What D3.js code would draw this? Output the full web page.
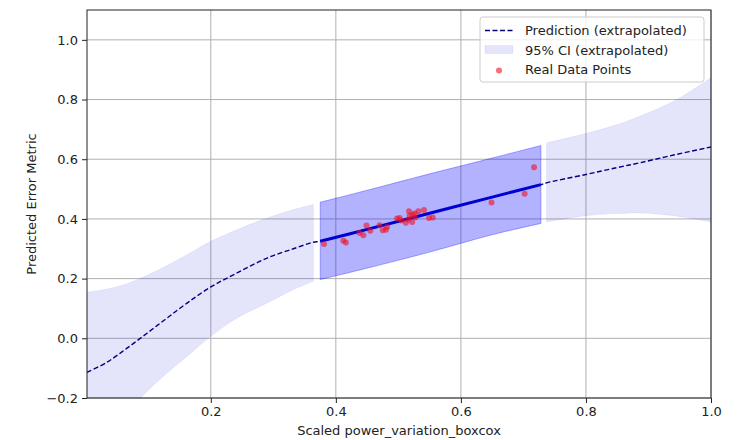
<!DOCTYPE html>
<html>
<head>
<meta charset="utf-8">
<script src="https://cdn.jsdelivr.net/npm/d3@7"></script>
<style>
  body { margin: 0; background: #fff; }
  svg { font-family: "DejaVu Sans", sans-serif; }
</style>
</head>
<body>
<div id="chart"></div>
<script>
// extrapolated prediction, left of the observed range
var leftX     = [0.002, 0.034, 0.066, 0.098, 0.13, 0.162, 0.2, 0.242, 0.29, 0.332, 0.364];
var leftMean  = [-0.114, -0.080, -0.033, 0.017, 0.068, 0.118, 0.172, 0.219, 0.269, 0.300, 0.322];
var leftUpper = [0.154, 0.165, 0.183, 0.211, 0.244, 0.280, 0.325, 0.364, 0.403, 0.431, 0.448];
var leftLower = [-0.382, -0.318, -0.250, -0.178, -0.116, -0.061, 0.0065, 0.068, 0.118, 0.163, 0.191];

// prediction over the observed range
var midX     = [0.375, 0.45, 0.55, 0.65, 0.728];
var midMean  = [0.325, 0.365, 0.419, 0.473, 0.515];
var midUpper = [0.456, 0.496, 0.551, 0.604, 0.646];
var midLower = [0.197, 0.235, 0.289, 0.347, 0.385];

// extrapolated prediction, right of the observed range
var rightX     = [0.737, 0.8, 0.85, 0.886, 0.94, 1.0];
var rightMean  = [0.521, 0.549, 0.572, 0.588, 0.614, 0.641];
var rightUpper = [0.655, 0.686, 0.716, 0.744, 0.794, 0.873];
var rightLower = [0.390, 0.411, 0.418, 0.420, 0.411, 0.390];

// real data points
var pointX = [0.381, 0.412, 0.416, 0.438, 0.444, 0.449, 0.455, 0.470, 0.475, 0.480, 0.482,
              0.498, 0.502, 0.505, 0.512, 0.516, 0.517, 0.518, 0.522, 0.523, 0.526, 0.527,
              0.532, 0.541, 0.549, 0.555, 0.649, 0.702, 0.717];
var pointY = [0.316, 0.327, 0.321, 0.353, 0.345, 0.378, 0.360, 0.379, 0.362, 0.364, 0.373,
              0.401, 0.403, 0.395, 0.387, 0.398, 0.426, 0.411, 0.390, 0.414, 0.418, 0.405,
              0.426, 0.430, 0.403, 0.405, 0.455, 0.484, 0.573];

var xTicks = [0.2, 0.4, 0.6, 0.8, 1.0];
var yTicks = [-0.2, 0.0, 0.2, 0.4, 0.6, 0.8, 1.0];

var legendLabels = ["Prediction (extrapolated)", "95% CI (extrapolated)", "Real Data Points"];

var width = 740, height = 440;
var margin = {top: 10, right: 29, bottom: 42, left: 87};

var svg = d3.select("#chart").append("svg")
  .attr("width", width)
  .attr("height", height);

var x = d3.scaleLinear().domain([0.002, 1.0]).range([margin.left, width - margin.right]);
var y = d3.scaleLinear().domain([-0.2, 1.1]).range([height - margin.bottom, margin.top]);

function zipRows(xs, mean, lo, hi) {
  return xs.map(function (d, i) { return {x: d, m: mean[i], lo: lo[i], hi: hi[i]}; });
}
var leftRows = zipRows(leftX, leftMean, leftLower, leftUpper);
var midRows = zipRows(midX, midMean, midLower, midUpper);
var rightRows = zipRows(rightX, rightMean, rightLower, rightUpper);

svg.append("clipPath").attr("id", "plotClip")
  .append("rect")
  .attr("x", x.range()[0]).attr("y", y.range()[1])
  .attr("width", x.range()[1] - x.range()[0])
  .attr("height", y.range()[0] - y.range()[1]);

// grid
var grid = svg.append("g").attr("stroke", "#b0b0b0").attr("stroke-width", 1);
grid.selectAll("line.gx").data(xTicks).enter().append("line")
  .attr("x1", x).attr("x2", x)
  .attr("y1", y.range()[0]).attr("y2", y.range()[1]);
grid.selectAll("line.gy").data(yTicks).enter().append("line")
  .attr("y1", y).attr("y2", y)
  .attr("x1", x.range()[0]).attr("x2", x.range()[1]);

var plot = svg.append("g").attr("clip-path", "url(#plotClip)");

var smooth = d3.curveCatmullRom.alpha(0.5);

var band = d3.area()
  .x(function (d) { return x(d.x); })
  .y0(function (d) { return y(d.lo); })
  .y1(function (d) { return y(d.hi); })
  .curve(smooth);

var meanLine = d3.line()
  .x(function (d) { return x(d.x); })
  .y(function (d) { return y(d.m); })
  .curve(smooth);

// light CI bands (extrapolated)
[leftRows, rightRows].forEach(function (rows) {
  plot.append("path")
    .attr("d", band(rows))
    .attr("fill", "#2020e0").attr("fill-opacity", 0.12)
    .attr("stroke", "blue").attr("stroke-opacity", 0.05);
});

// CI over data range
plot.append("path")
  .attr("d", band(midRows))
  .attr("fill", "blue").attr("fill-opacity", 0.3)
  .attr("stroke", "blue").attr("stroke-opacity", 0.3).attr("stroke-width", 1);

// dashed prediction over the whole range
plot.append("path")
  .attr("d", meanLine(leftRows.concat(midRows, rightRows)))
  .attr("fill", "none")
  .attr("stroke", "#000080")
  .attr("stroke-width", 1.4)
  .attr("stroke-dasharray", "5,2.5");

// solid fit across the observed data
plot.append("path")
  .attr("d", meanLine(midRows))
  .attr("fill", "none")
  .attr("stroke", "#0000d0")
  .attr("stroke-width", 3);

plot.selectAll("circle.pt").data(pointX).enter().append("circle")
  .attr("cx", function (d) { return x(d); })
  .attr("cy", function (d, i) { return y(pointY[i]); })
  .attr("r", 3)
  .attr("fill", "#f01020").attr("fill-opacity", 0.6);

// axes
var xAxis = svg.append("g")
  .attr("transform", "translate(0," + y.range()[0] + ")")
  .call(d3.axisBottom(x).tickValues(xTicks).tickFormat(d3.format(".1f")).tickSize(5).tickPadding(4));
var yAxis = svg.append("g")
  .attr("transform", "translate(" + x.range()[0] + ",0)")
  .call(d3.axisLeft(y).tickValues(yTicks).tickFormat(d3.format(".1f")).tickSize(5).tickPadding(4));

[xAxis, yAxis].forEach(function (a) {
  a.select(".domain").remove();
  a.selectAll("text").attr("font-size", 13).attr("fill", "#222").attr("font-family", "DejaVu Sans");
  a.selectAll("line").attr("stroke", "#222");
});

// frame
svg.append("rect")
  .attr("x", x.range()[0]).attr("y", y.range()[1])
  .attr("width", x.range()[1] - x.range()[0])
  .attr("height", y.range()[0] - y.range()[1])
  .attr("fill", "none").attr("stroke", "#222").attr("stroke-width", 1);

svg.append("text")
  .attr("x", (x.range()[0] + x.range()[1]) / 2)
  .attr("y", 435)
  .attr("text-anchor", "middle")
  .attr("font-size", 13).attr("fill", "#222")
  .text("Scaled power_variation_boxcox");

svg.append("text")
  .attr("transform", "translate(36," + (y.range()[0] + y.range()[1]) / 2 + ") rotate(-90)")
  .attr("text-anchor", "middle")
  .attr("font-size", 13).attr("fill", "#222")
  .text("Predicted Error Metric");

// legend
var legend = svg.append("g").attr("transform", "translate(480,17)");
legend.append("rect")
  .attr("width", 224).attr("height", 65).attr("rx", 3)
  .attr("fill", "white").attr("fill-opacity", 0.8)
  .attr("stroke", "#cccccc");

legend.append("line")
  .attr("x1", 5).attr("x2", 33).attr("y1", 13.5).attr("y2", 13.5)
  .attr("stroke", "#000080").attr("stroke-width", 1.4).attr("stroke-dasharray", "5,2.5");
legend.append("rect")
  .attr("x", 5).attr("y", 28.5).attr("width", 28).attr("height", 8)
  .attr("fill", "#2020e0").attr("fill-opacity", 0.12)
  .attr("stroke", "blue").attr("stroke-opacity", 0.05);
legend.append("circle")
  .attr("cx", 19).attr("cy", 53.5).attr("r", 3)
  .attr("fill", "#f01020").attr("fill-opacity", 0.6);

legend.selectAll("text").data(legendLabels).enter().append("text")
  .attr("x", 45)
  .attr("y", function (d, i) { return 18 + i * 19.5; })
  .attr("font-size", 13).attr("fill", "#222")
  .text(function (d) { return d; });
</script>
</body>
</html>
